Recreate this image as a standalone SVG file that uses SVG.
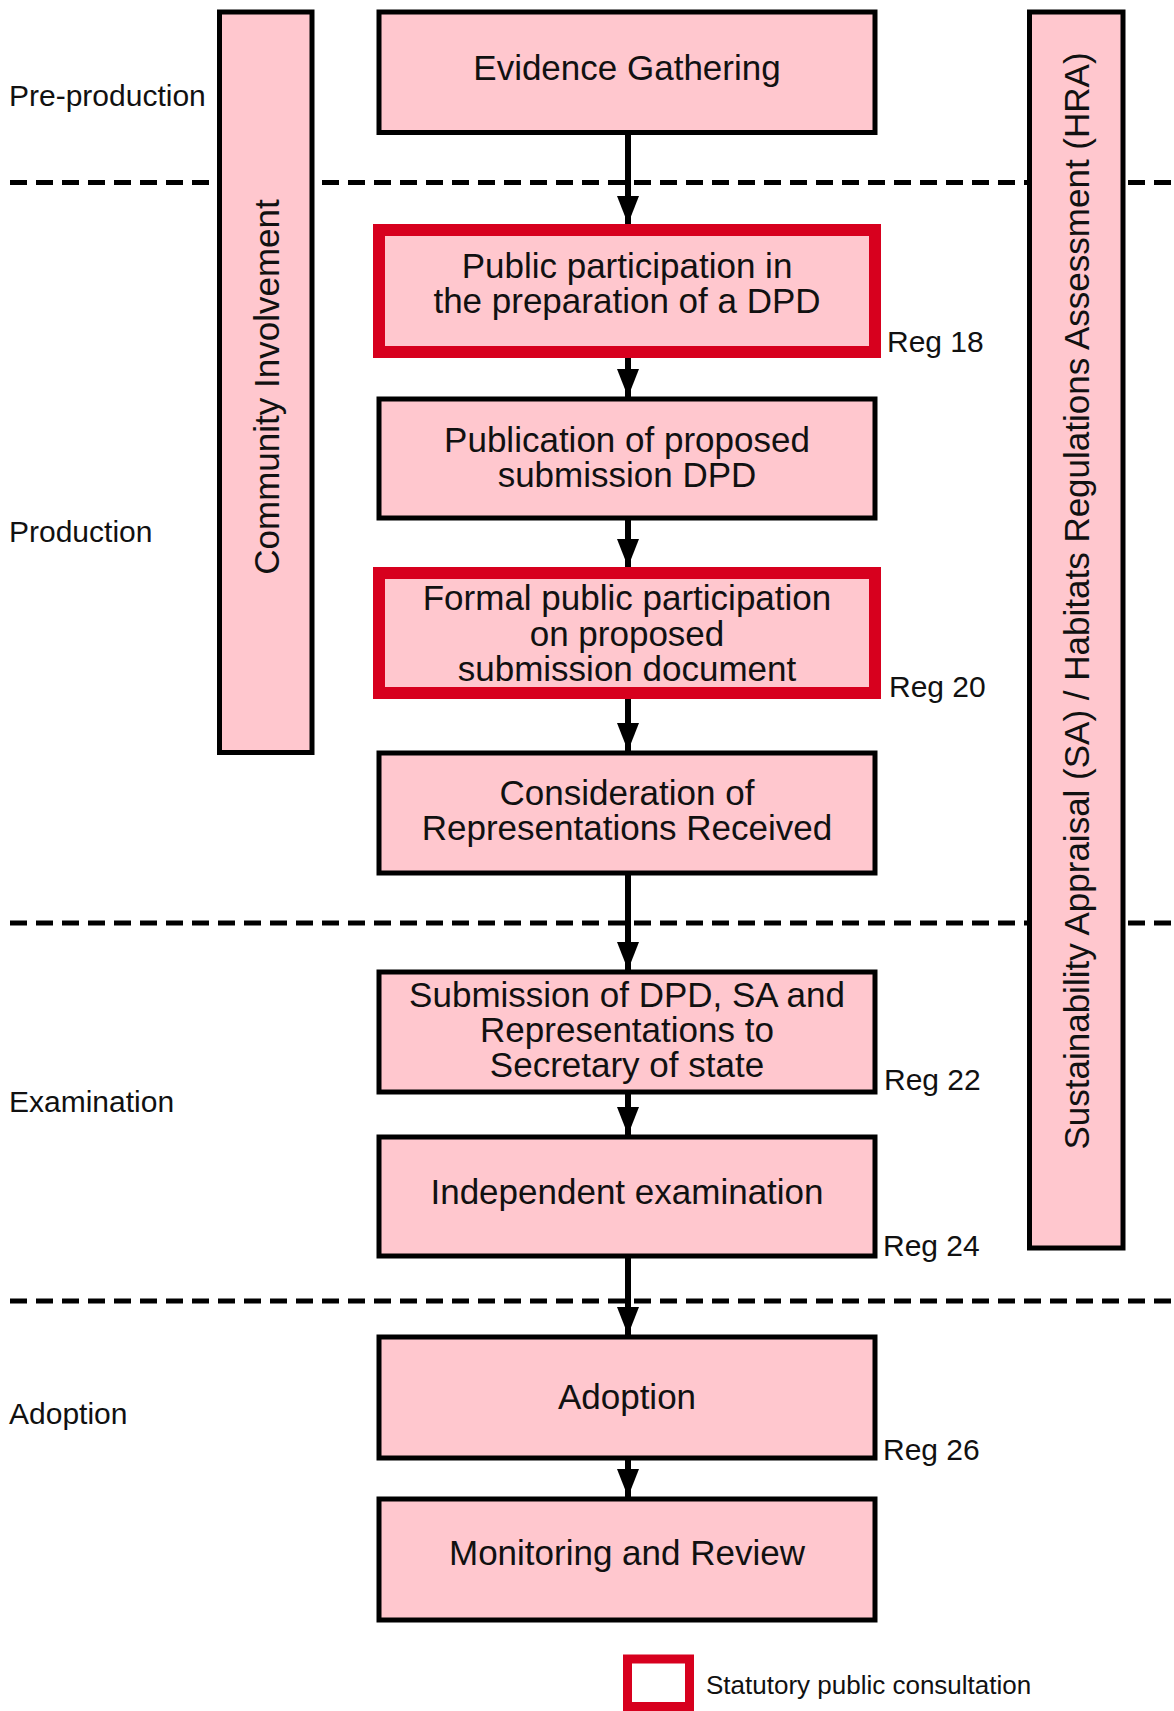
<svg xmlns="http://www.w3.org/2000/svg" width="1174" height="1711" viewBox="0 0 1174 1711">
<style>
  .bg { fill: #ffffff; }
  .box { fill: #FFC7CE; stroke: #000000; stroke-width: 5; }
  .stat { fill: #FFC7CE; stroke: #D7001E; stroke-width: 12; }
  .t { font-family: "Liberation Sans", Arial, sans-serif; font-size: 35px; fill: #111111; text-anchor: middle; }
  .phase { font-family: "Liberation Sans", Arial, sans-serif; font-size: 30px; fill: #111111; }
  .reg { font-family: "Liberation Sans", Arial, sans-serif; font-size: 30px; fill: #111111; }
  .leg { font-family: "Liberation Sans", Arial, sans-serif; font-size: 26px; fill: #111111; }
  .dash { stroke: #000000; stroke-width: 5; stroke-dasharray: 17 9; fill: none; }
  .conn { stroke: #000000; stroke-width: 6; fill: none; }
</style>
<defs>
  <marker id="arr" markerUnits="userSpaceOnUse" markerWidth="24" markerHeight="30" refX="22" refY="11" orient="auto">
    <path d="M0,0 L28,11 L0,22 Z" fill="#000000"/>
  </marker>
  <marker id="ah" viewBox="0 0 28 22" markerUnits="userSpaceOnUse" markerWidth="28" markerHeight="22" refX="28" refY="11" orient="auto">
    <path d="M0,0 L28,11 L0,22 Z" fill="#000000"/>
  </marker>
</defs>
<rect class="bg" x="0" y="0" width="1174" height="1711"/>

<g id="phase-dividers">
  <line class="dash" x1="10" y1="182.5" x2="1174" y2="182.5"/>
  <line class="dash" x1="10" y1="923" x2="1174" y2="923"/>
  <line class="dash" x1="10" y1="1301" x2="1174" y2="1301"/>
</g>

<g id="phase-labels">
  <text class="phase" x="9" y="106">Pre-production</text>
  <text class="phase" x="9" y="542">Production</text>
  <text class="phase" x="9" y="1112">Examination</text>
  <text class="phase" x="9" y="1424">Adoption</text>
</g>

<g id="community-involvement">
  <rect class="box" x="219.5" y="12" width="92.5" height="740.5"/>
  <text class="t" transform="translate(266,387) rotate(-90)" x="0" y="12.5">Community Involvement</text>
</g>

<g id="sustainability-appraisal">
  <rect class="box" x="1029.5" y="12" width="93.5" height="1236"/>
  <text class="t" transform="translate(1076,601) rotate(-90)" x="0" y="12.5">Sustainability Appraisal (SA) / Habitats Regulations Assessment (HRA)</text>
</g>

<g id="connectors">
  <line class="conn" x1="628" y1="135" x2="628" y2="224" marker-end="url(#ah)"/>
  <line class="conn" x1="628" y1="358" x2="628" y2="397" marker-end="url(#ah)"/>
  <line class="conn" x1="628" y1="520" x2="628" y2="567" marker-end="url(#ah)"/>
  <line class="conn" x1="628" y1="699" x2="628" y2="751" marker-end="url(#ah)"/>
  <line class="conn" x1="628" y1="875" x2="628" y2="970" marker-end="url(#ah)"/>
  <line class="conn" x1="628" y1="1094" x2="628" y2="1135" marker-end="url(#ah)"/>
  <line class="conn" x1="628" y1="1258" x2="628" y2="1335" marker-end="url(#ah)"/>
  <line class="conn" x1="628" y1="1460" x2="628" y2="1497" marker-end="url(#ah)"/>
</g>

<g id="evidence-gathering">
  <rect class="box" x="379" y="12" width="496" height="120.5"/>
  <text class="t" x="627" y="80">Evidence Gathering</text>
</g>

<g id="public-participation">
  <rect class="stat" x="379" y="230" width="496" height="122"/>
  <text class="t" x="627" y="278">Public participation in</text>
  <text class="t" x="627" y="313">the preparation of a DPD</text>
</g>
<text class="reg" x="887" y="352">Reg 18</text>

<g id="publication">
  <rect class="box" x="379" y="399" width="496" height="119"/>
  <text class="t" x="627" y="452">Publication of proposed</text>
  <text class="t" x="627" y="487">submission DPD</text>
</g>

<g id="formal-participation">
  <rect class="stat" x="379" y="573" width="496" height="120"/>
  <text class="t" x="627" y="610">Formal public participation</text>
  <text class="t" x="627" y="646">on proposed</text>
  <text class="t" x="627" y="681">submission document</text>
</g>
<text class="reg" x="889" y="697">Reg 20</text>

<g id="consideration">
  <rect class="box" x="379" y="753" width="496" height="120"/>
  <text class="t" x="627" y="805">Consideration of</text>
  <text class="t" x="627" y="840">Representations Received</text>
</g>

<g id="submission">
  <rect class="box" x="379" y="972" width="496" height="120"/>
  <text class="t" x="627" y="1007">Submission of DPD, SA and</text>
  <text class="t" x="627" y="1042">Representations to</text>
  <text class="t" x="627" y="1077">Secretary of state</text>
</g>
<text class="reg" x="884" y="1090">Reg 22</text>

<g id="independent-examination">
  <rect class="box" x="379" y="1137" width="496" height="119"/>
  <text class="t" x="627" y="1204">Independent examination</text>
</g>
<text class="reg" x="883" y="1256">Reg 24</text>

<g id="adoption">
  <rect class="box" x="379" y="1337" width="496" height="121"/>
  <text class="t" x="627" y="1409">Adoption</text>
</g>
<text class="reg" x="883" y="1460">Reg 26</text>

<g id="monitoring">
  <rect class="box" x="379" y="1499" width="496" height="121"/>
  <text class="t" x="627" y="1565">Monitoring and Review</text>
</g>

<g id="legend">
  <rect x="627.5" y="1659" width="62" height="47.5" fill="#ffffff" stroke="#D7001E" stroke-width="9"/>
  <text class="leg" x="706" y="1694">Statutory public consultation</text>
</g>
</svg>
